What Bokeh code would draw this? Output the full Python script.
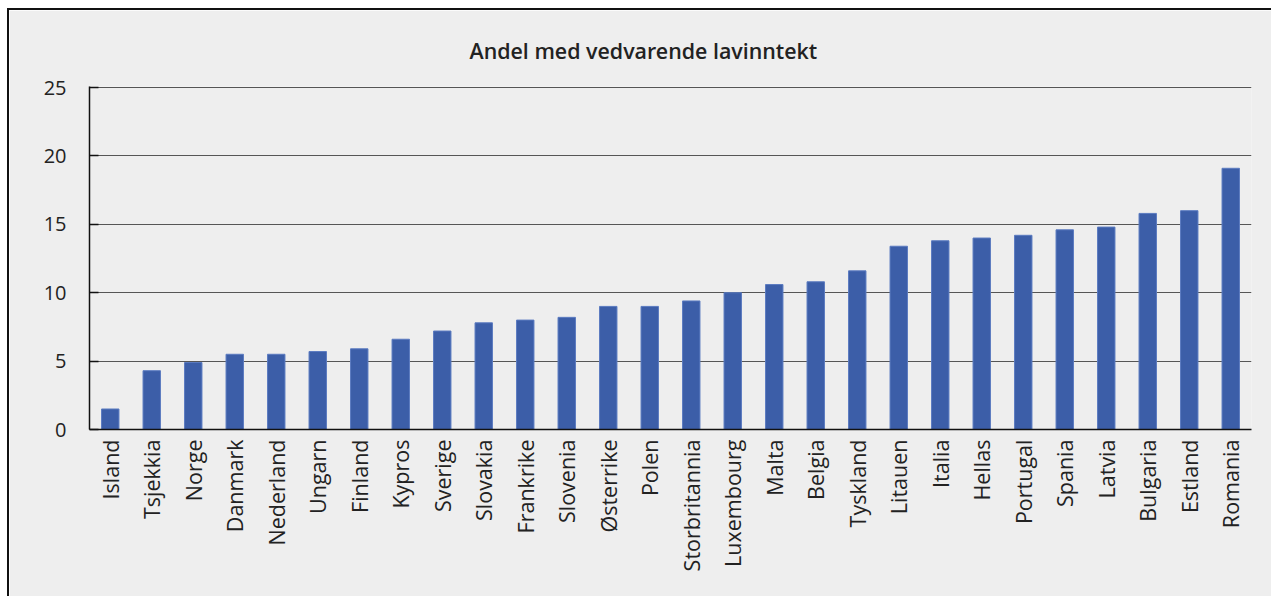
from bokeh.plotting import figure
from bokeh.models import FixedTicker, Title
from bokeh.embed import file_html
from bokeh.resources import INLINE
import math

countries = ["Island", "Tsjekkia", "Norge", "Danmark", "Nederland", "Ungarn", "Finland",
             "Kypros", "Sverige", "Slovakia", "Frankrike", "Slovenia", "Østerrike", "Polen",
             "Storbritannia", "Luxembourg", "Malta", "Belgia", "Tyskland", "Litauen", "Italia",
             "Hellas", "Portugal", "Spania", "Latvia", "Bulgaria", "Estland", "Romania"]
values = [1.5, 4.3, 4.9, 5.5, 5.5, 5.7, 5.9, 6.6, 7.2, 7.8, 8.0, 8.2, 9.0, 9.0,
          9.4, 10.0, 10.6, 10.8, 11.6, 13.4, 13.8, 14.0, 14.2, 14.6, 14.8, 15.8, 16.0, 19.1]
y_ticks = [0, 5, 10, 15, 20, 25]
title_text = "Andel med vedvarende lavinntekt"

FONT = "Open Sans"
BG = "#eeeeee"

p = figure(x_range=countries, y_range=(0, 25.08), width=1264, height=588,
           output_backend="svg", toolbar_location=None, title=None)
p.margin = (8, 0, 0, 7)
p.styles = {"border-left": "2px solid #111111", "border-top": "2px solid #111111"}
p.background_fill_color = BG
p.border_fill_color = BG
p.outline_line_color = None
p.min_border_left = 80
p.min_border_top = 76
p.min_border_right = 22
p.min_border_bottom = 169

t = Title(text=title_text, align="left", offset=380, text_font="Open Sans SemiBold",
          text_font_size="21.4px", text_font_style="normal", text_color="#222222",
          standoff=44)
p.add_layout(t, "above")

p.vbar(x=countries, top=values, width=0.42, fill_color="#3c5ea8",
       line_color="#5b7bc0", line_width=1)

p.xgrid.grid_line_color = None
p.ygrid.grid_line_color = "#555555"
p.ygrid.grid_line_width = 1.2
p.ygrid.ticker = FixedTicker(ticks=y_ticks)

p.yaxis.ticker = FixedTicker(ticks=y_ticks)
p.yaxis.axis_line_color = "#111111"
p.yaxis.axis_line_width = 1.5
p.yaxis.major_tick_in = 9
p.yaxis.major_tick_out = 0
p.yaxis.major_tick_line_color = "#111111"
p.yaxis.major_tick_line_width = 1.5
p.yaxis.minor_tick_line_color = None
p.yaxis.major_label_text_font = FONT
p.yaxis.major_label_text_font_size = "20px"
p.yaxis.major_label_text_color = "#222222"
p.yaxis.major_label_standoff = 23

p.xaxis.axis_line_color = "#111111"
p.xaxis.axis_line_width = 1.5
p.xaxis.major_tick_line_color = None
p.xaxis.minor_tick_line_color = None
p.xaxis.major_label_orientation = math.pi / 2
p.xaxis.major_label_text_font = FONT
p.xaxis.major_label_text_font_size = "21.5px"
p.xaxis.major_label_text_color = "#222222"
p.xaxis.major_label_standoff = 4

open("out.html", "w").write(file_html(p, INLINE))
